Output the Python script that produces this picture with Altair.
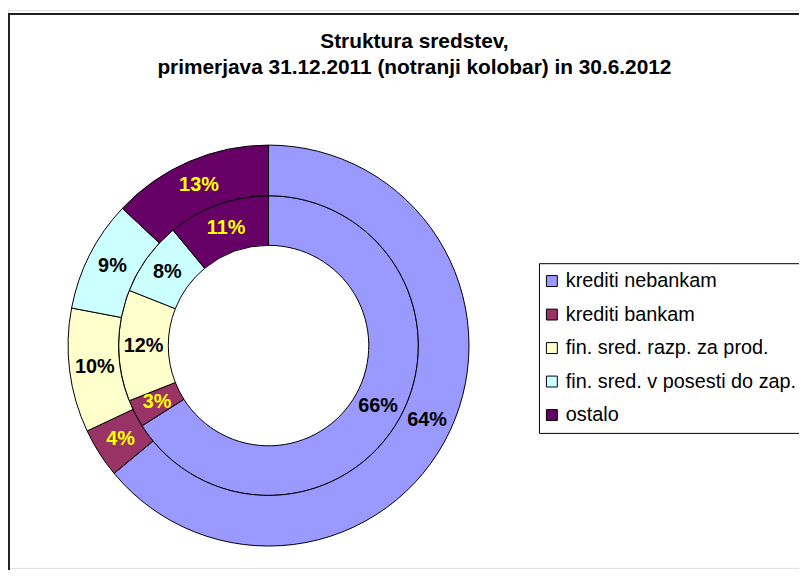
import altair as alt
import pandas as pd

categories = [
    "krediti nebankam",
    "krediti bankam",
    "fin. sred. razp. za prod.",
    "fin. sred. v posesti do zap.",
    "ostalo",
]
inner_2011 = [66, 3, 12, 8, 11]   # 31.12.2011 (notranji kolobar)
outer_2012 = [64, 4, 10, 9, 13]   # 30.6.2012 (zunanji kolobar)
colors = ["#9999FF", "#993366", "#FFFFCC", "#CCFFFF", "#660066"]

rows = []
for ring, vals in (("31.12.2011", inner_2011), ("30.6.2012", outer_2012)):
    for i, (c, v) in enumerate(zip(categories, vals)):
        rows.append({"ring": ring, "kategorija": c, "delez": v, "idx": i, "label": f"{v}%"})
df = pd.DataFrame(rows)

FONT = "Liberation Sans"
CX, CY = 262.5, 338
W, H = 797, 562

theta = alt.Theta("delez:Q", stack=True, scale=alt.Scale(domain=[0, 100]))
order = alt.Order("idx:Q")
color = alt.Color(
    "kategorija:N",
    scale=alt.Scale(domain=categories, range=colors),
    sort=categories,
    legend=alt.Legend(
        title=None,
        orient="none",
        legendX=535,
        legendY=255,
        symbolType="square",
        symbolSize=121,
        symbolStrokeColor="black",
        symbolStrokeWidth=1,
        symbolOffset=-5,
        labelFont=FONT,
        labelFontSize=20,
        labelColor="black",
        labelOffset=4,
        labelLimit=400,
        rowPadding=13.75,
        padding=8,
        strokeColor="black",
        fillColor="white",
    ),
)
label_color = alt.condition(
    "datum.idx == 1 || datum.idx == 4", alt.value("#FFFF00"), alt.value("black")
)

base = alt.Chart(df)

frame = alt.Chart(pd.DataFrame({"f": [0]})).mark_rect(
    filled=False, stroke="#222222", strokeWidth=2
).encode(
    x=alt.value(1), y=alt.value(4), x2=alt.value(900), y2=alt.value(700)
)

inner = base.transform_filter(alt.datum.ring == "31.12.2011").mark_arc(
    radius=151, radius2=101, stroke="black", strokeWidth=1, x=CX, y=CY
).encode(theta=theta, color=color, order=order)

outer = base.transform_filter(alt.datum.ring == "30.6.2012").mark_arc(
    radius=202, radius2=151, stroke="black", strokeWidth=1, x=CX, y=CY
).encode(theta=theta, color=color, order=order)

inner_txt = base.transform_filter(alt.datum.ring == "31.12.2011").mark_text(
    radius=126, font=FONT, fontSize=20, fontWeight="bold", x=CX, y=CY
).encode(theta=theta, order=order, text="label:N", color=label_color)

outer_txt = base.transform_filter(alt.datum.ring == "30.6.2012").mark_text(
    radius=176.5, font=FONT, fontSize=20, fontWeight="bold", x=CX, y=CY
).encode(theta=theta, order=order, text="label:N", color=label_color)

chart = alt.layer(frame, inner, outer, inner_txt, outer_txt).properties(
    width=W,
    height=H,
    padding=0,
    autosize=alt.AutoSizeParams(type="none"),
    title=alt.TitleParams(
        text=["Struktura sredstev,", "primerjava 31.12.2011 (notranji kolobar) in 30.6.2012"],
        font=FONT,
        fontSize=21,
        fontWeight="bold",
        color="black",
        anchor="middle",
        baseline="top",
        lineHeight=26,
        offset=0,
        dx=11,
        dy=68,
    ),
).configure_view(stroke=None).configure(background="white")

chart.save("out.html", embed_options={"renderer": "svg", "actions": False})
